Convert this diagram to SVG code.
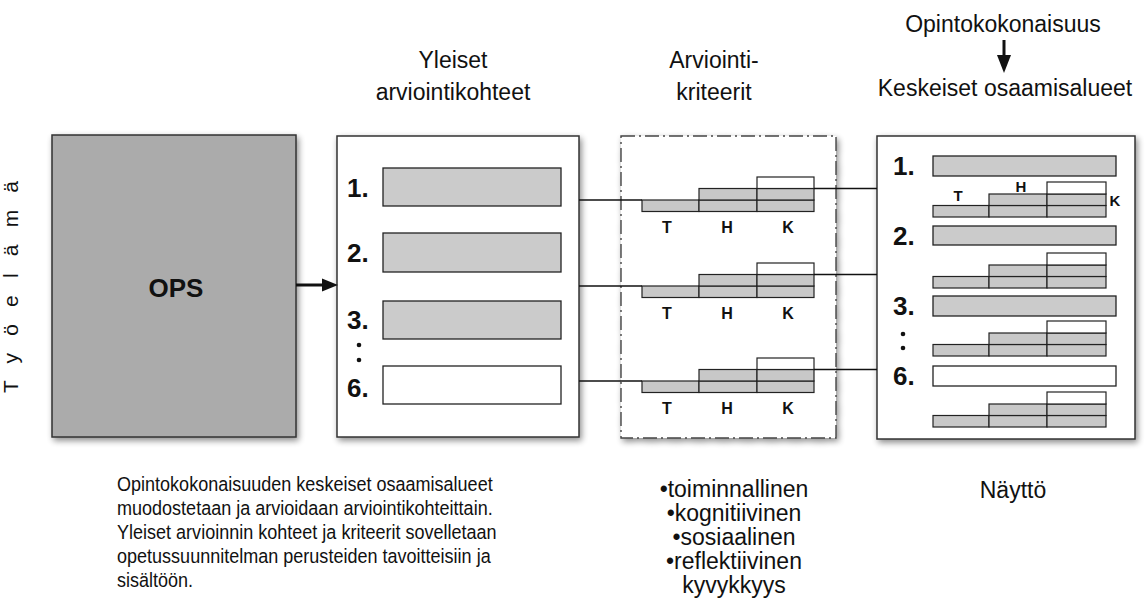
<svg xmlns="http://www.w3.org/2000/svg" width="1147" height="607" viewBox="0 0 1147 607">
<style>
text{font-family:"Liberation Sans",Arial,sans-serif;fill:#111}
.h{font-size:23px;text-anchor:middle}
.p{font-size:19.5px}
.b{font-size:23px;text-anchor:middle}
.num{font-size:26px;font-weight:bold}
.lbl{font-size:16px;font-weight:bold;text-anchor:middle}
.lbl2{font-size:15px;font-weight:bold;text-anchor:middle}
.box{fill:#fff;stroke:#333;stroke-width:1.5}
.bar{fill:#cbcbcb;stroke:#222;stroke-width:1.3}
.wbar{fill:#fff;stroke:#222;stroke-width:1.3}
.cell{fill:#c8c8c8;stroke:#222;stroke-width:1.2}
.wcell{fill:#fff;stroke:#222;stroke-width:1.2}
.con{stroke:#111;stroke-width:1.3;fill:none}
</style>
<defs>
<filter id="sh" x="-10%" y="-10%" width="125%" height="125%">
<feGaussianBlur in="SourceAlpha" stdDeviation="3"/>
<feOffset dx="2" dy="3" result="o"/>
<feComponentTransfer><feFuncA type="linear" slope="0.45"/></feComponentTransfer>
<feMerge><feMergeNode/><feMergeNode in="SourceGraphic"/></feMerge>
</filter>
<g id="chartA">
<rect class="cell" x="0" y="23" width="57" height="11.5"/>
<rect class="cell" x="57" y="23" width="58" height="11.5"/>
<rect class="cell" x="57" y="11.5" width="58" height="11.5"/>
<rect class="cell" x="115" y="23" width="57" height="11.5"/>
<rect class="cell" x="115" y="11.5" width="57" height="11.5"/>
<rect class="wcell" x="115" y="0" width="57" height="11.5"/>
</g>
<g id="chartB">
<rect class="cell" x="0" y="23.5" width="56" height="11.5"/>
<rect class="cell" x="56" y="23.5" width="58" height="11.5"/>
<rect class="cell" x="56" y="12" width="58" height="11.5"/>
<rect class="cell" x="114" y="23.5" width="59" height="11.5"/>
<rect class="cell" x="114" y="12" width="59" height="11.5"/>
<rect class="wcell" x="114" y="0" width="59" height="12"/>
</g>
</defs>
<rect width="1147" height="607" fill="#fff"/>

<g id="side-label">
<text transform="translate(18,287) rotate(-90)" x="0" y="0" font-size="21" text-anchor="middle" textLength="212" lengthAdjust="spacing">T y ö e l ä m ä</text>
</g>

<g id="headers">
<text class="h" x="453" y="68">Yleiset</text>
<text class="h" x="453" y="100">arviointikohteet</text>
<text class="h" x="714" y="68">Arviointi-</text>
<text class="h" x="714" y="100">kriteerit</text>
<text class="h" x="1003" y="32">Opintokokonaisuus</text>
<text class="h" x="1005" y="96">Keskeiset osaamisalueet</text>
<line x1="1004" y1="40" x2="1004" y2="58" stroke="#111" stroke-width="3"/>
<polygon points="997,55 1011,55 1004,73" fill="#111"/>
</g>

<g id="ops">
<rect x="52" y="135" width="244" height="302" fill="#ababab" stroke="#333" stroke-width="1.5" filter="url(#sh)"/>
<text x="176" y="297" font-size="26" font-weight="bold" text-anchor="middle">OPS</text>
</g>

<g id="kohteet">
<rect class="box" x="337" y="136" width="242" height="301" filter="url(#sh)"/>
<text class="num" x="347" y="197">1.</text>
<rect class="bar" x="383" y="168" width="178" height="38"/>
<text class="num" x="347" y="262">2.</text>
<rect class="bar" x="383" y="233" width="178" height="39"/>
<text class="num" x="347" y="329">3.</text>
<rect class="bar" x="383" y="301" width="178" height="38"/>
<circle cx="359" cy="345" r="2.3" fill="#111"/>
<circle cx="359" cy="360" r="2.3" fill="#111"/>
<text class="num" x="347" y="397">6.</text>
<rect class="wbar" x="383" y="366" width="178" height="38"/>
</g>

<g id="kriteerit">
<rect x="621" y="136" width="215" height="302" fill="#fff" stroke="#444" stroke-width="1.4" stroke-dasharray="14 4 2 4" filter="url(#sh)"/>
<use href="#chartA" x="642" y="177"/>
<use href="#chartA" x="642" y="263"/>
<use href="#chartA" x="642" y="358"/>
<text class="lbl" x="667" y="233">T</text>
<text class="lbl" x="727" y="233">H</text>
<text class="lbl" x="788" y="233">K</text>
<text class="lbl" x="667" y="319">T</text>
<text class="lbl" x="727" y="319">H</text>
<text class="lbl" x="788" y="319">K</text>
<text class="lbl" x="667" y="414">T</text>
<text class="lbl" x="727" y="414">H</text>
<text class="lbl" x="788" y="414">K</text>
</g>

<g id="naytto">
<rect class="box" x="877" y="136" width="258" height="303" filter="url(#sh)"/>
<text class="num" x="893" y="175">1.</text>
<rect class="bar" x="933" y="156" width="183" height="20"/>
<use href="#chartB" x="933" y="182"/>
<text class="lbl2" x="958" y="201">T</text>
<text class="lbl2" x="1021" y="192">H</text>
<text class="lbl2" x="1115" y="206">K</text>
<text class="num" x="893" y="245">2.</text>
<rect class="bar" x="933" y="226" width="183" height="19"/>
<use href="#chartB" x="933" y="253"/>
<text class="num" x="893" y="315">3.</text>
<rect class="bar" x="933" y="296" width="183" height="20"/>
<use href="#chartB" x="933" y="321"/>
<circle cx="903" cy="334" r="2.3" fill="#111"/>
<circle cx="903" cy="348" r="2.3" fill="#111"/>
<text class="num" x="893" y="385">6.</text>
<rect class="wbar" x="933" y="366" width="183" height="20"/>
<use href="#chartB" x="933" y="392"/>
</g>

<g id="connectors">
<line x1="296" y1="285" x2="324" y2="285" stroke="#111" stroke-width="3"/>
<polygon points="322,278.5 338,285 322,291.5" fill="#111"/>
<line class="con" x1="579" y1="200" x2="642" y2="200"/>
<line class="con" x1="579" y1="286" x2="642" y2="286"/>
<line class="con" x1="579" y1="381" x2="642" y2="381"/>
<line class="con" x1="814" y1="188.5" x2="877" y2="188.5"/>
<line class="con" x1="814" y1="274.5" x2="877" y2="274.5"/>
<line class="con" x1="814" y1="369.5" x2="877" y2="369.5"/>
</g>

<g id="description" transform="translate(117,0) scale(0.925,1)">
<text class="p" x="0" y="491">Opintokokonaisuuden keskeiset osaamisalueet</text>
<text class="p" x="0" y="515">muodostetaan ja arvioidaan arviointikohteittain.</text>
<text class="p" x="0" y="539">Yleiset arvioinnin kohteet ja kriteerit sovelletaan</text>
<text class="p" x="0" y="563">opetussuunnitelman perusteiden tavoitteisiin ja</text>
<text class="p" x="0" y="587">sisältöön.</text>
</g>

<g id="criteria-list">
<text class="b" x="734" y="497">•toiminnallinen</text>
<text class="b" x="734" y="521">•kognitiivinen</text>
<text class="b" x="734" y="545">•sosiaalinen</text>
<text class="b" x="734" y="569">•reflektiivinen</text>
<text class="b" x="734" y="593">kyvykkyys</text>
</g>

<g id="naytto-label">
<text class="h" x="1013" y="498">Näyttö</text>
</g>
</svg>
